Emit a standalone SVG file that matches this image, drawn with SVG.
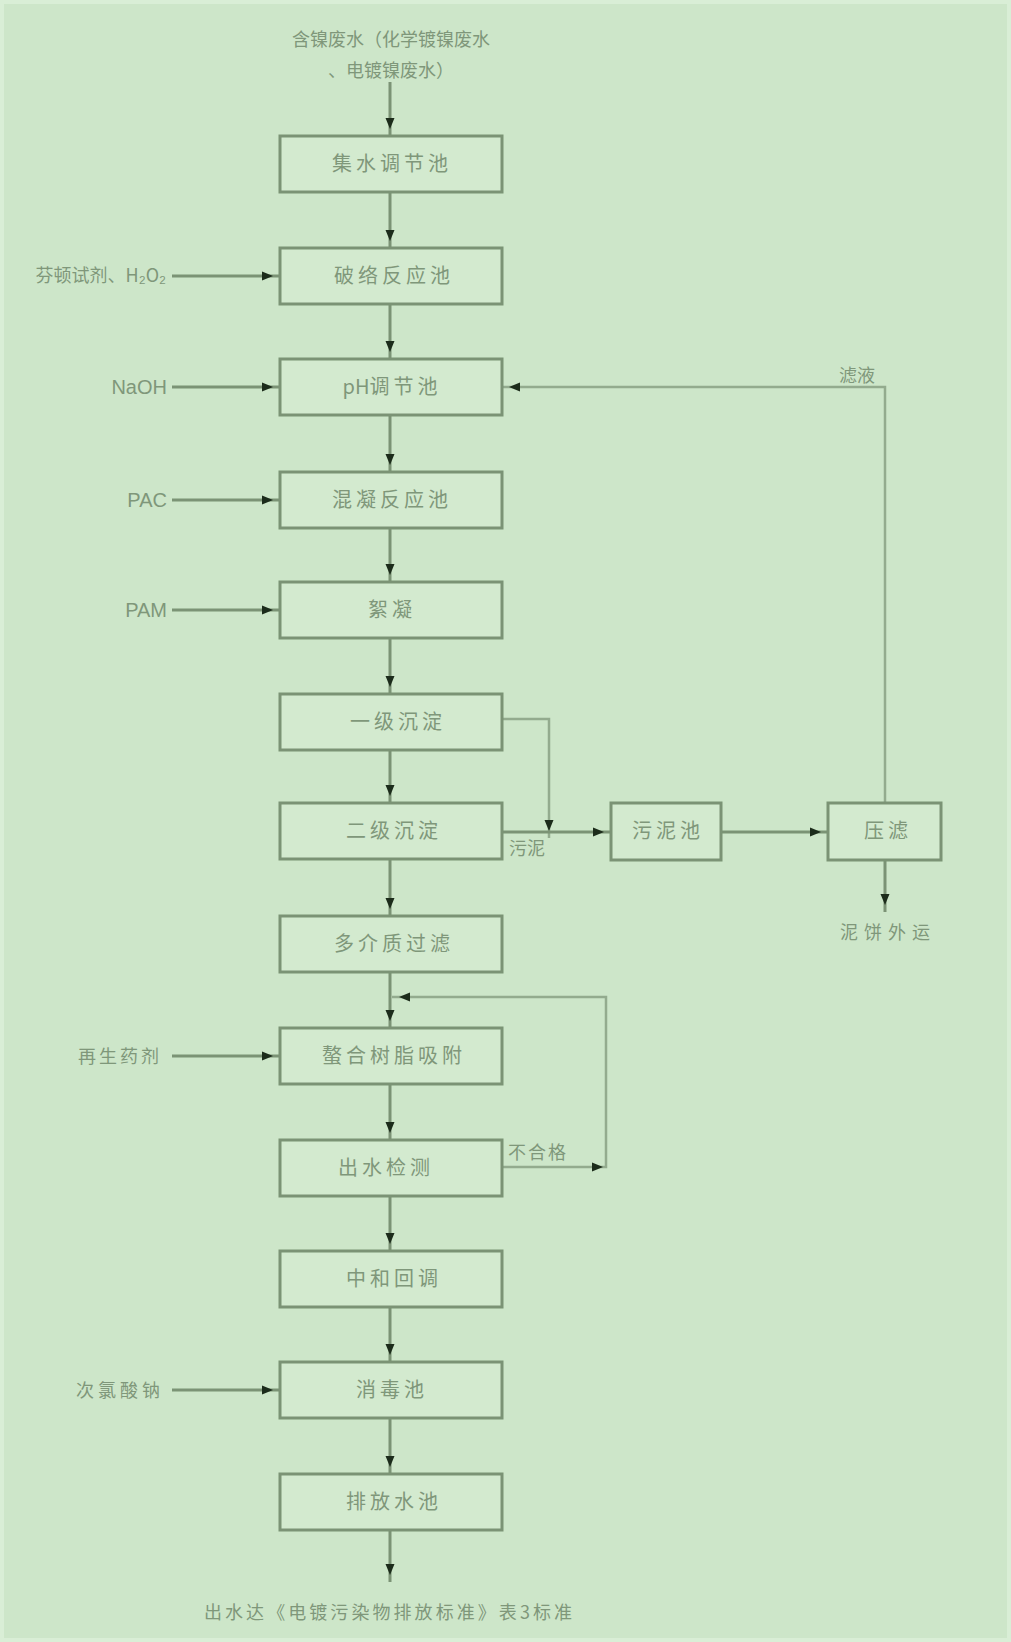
<svg xmlns="http://www.w3.org/2000/svg" width="1011" height="1642" viewBox="0 0 1011 1642">
<defs>
<marker id="ah" markerUnits="userSpaceOnUse" markerWidth="12" markerHeight="10" viewBox="0 0 12 10" refX="18" refY="5" orient="auto" overflow="visible">
<path d="M0,0.5 L11,5 L0,9.5 z" fill="#1c2c1b"/>
</marker>
<style>
.box{fill:#d3eacf;stroke:#7b9375;stroke-width:3}
.ln{fill:none;stroke:#7b9375;stroke-width:3}
.lt{fill:none;stroke:#93ab8e;stroke-width:2.5}
.bt{font-family:"Noto Sans CJK SC","Liberation Sans",sans-serif;font-size:20px;fill:#7f977a;text-anchor:middle;letter-spacing:4px}
.lb{font-family:"Noto Sans CJK SC","Liberation Sans",sans-serif;font-size:18px;fill:#7f977a}
.en{font-family:"Liberation Sans","Noto Sans CJK SC",sans-serif;font-size:20px;fill:#7f977a;text-anchor:end}
.head{fill:#1c2c1b}
</style>
</defs>
<rect x="0" y="0" width="1011" height="1642" fill="#cde6c9"/>
<rect x="2" y="2" width="1007" height="1638" fill="none" stroke="#d9eed6" stroke-width="4"/>

<g id="connectors">
<line class="ln" x1="390" y1="82" x2="390" y2="136" marker-end="url(#ah)"/>
<line class="ln" x1="390" y1="192" x2="390" y2="248" marker-end="url(#ah)"/>
<line class="ln" x1="390" y1="304" x2="390" y2="359" marker-end="url(#ah)"/>
<line class="ln" x1="390" y1="415" x2="390" y2="472" marker-end="url(#ah)"/>
<line class="ln" x1="390" y1="528" x2="390" y2="582" marker-end="url(#ah)"/>
<line class="ln" x1="390" y1="638" x2="390" y2="694" marker-end="url(#ah)"/>
<line class="ln" x1="390" y1="750" x2="390" y2="803" marker-end="url(#ah)"/>
<line class="ln" x1="390" y1="859" x2="390" y2="916" marker-end="url(#ah)"/>
<line class="ln" x1="390" y1="972" x2="390" y2="1028" marker-end="url(#ah)"/>
<line class="ln" x1="390" y1="1084" x2="390" y2="1140" marker-end="url(#ah)"/>
<line class="ln" x1="390" y1="1196" x2="390" y2="1251" marker-end="url(#ah)"/>
<line class="ln" x1="390" y1="1307" x2="390" y2="1362" marker-end="url(#ah)"/>
<line class="ln" x1="390" y1="1418" x2="390" y2="1474" marker-end="url(#ah)"/>
<line class="ln" x1="390" y1="1530" x2="390" y2="1582" marker-end="url(#ah)"/>

<line class="ln" x1="172" y1="276" x2="280" y2="276" marker-end="url(#ah)"/>
<line class="ln" x1="172" y1="387" x2="280" y2="387" marker-end="url(#ah)"/>
<line class="ln" x1="172" y1="500" x2="280" y2="500" marker-end="url(#ah)"/>
<line class="ln" x1="172" y1="610" x2="280" y2="610" marker-end="url(#ah)"/>
<line class="ln" x1="172" y1="1056" x2="280" y2="1056" marker-end="url(#ah)"/>
<line class="ln" x1="172" y1="1390" x2="280" y2="1390" marker-end="url(#ah)"/>

<polyline class="lt" points="502,719 549,719 549,838" marker-end="url(#ah)"/>
<line class="ln" x1="502" y1="832" x2="611" y2="832" marker-end="url(#ah)"/>
<line class="ln" x1="721" y1="832" x2="828" y2="832" marker-end="url(#ah)"/>
<polyline class="lt" points="885,803 885,387 502,387" marker-end="url(#ah)"/>
<line class="ln" x1="885" y1="860" x2="885" y2="912" marker-end="url(#ah)"/>

<polyline class="lt" points="502,1167 606,1167 606,997 392,997" marker-end="url(#ah)"/>
<path class="head" d="M592,1162.5 L603,1167 L592,1171.5 z"/>
</g>

<text class="lb" x="391" y="46" text-anchor="middle">含镍废水（化学镀镍废水</text>
<text class="lb" x="391" y="77" text-anchor="middle">、电镀镍废水）</text>

<g id="n1"><rect class="box" x="280" y="136" width="222" height="56"/><text class="bt" x="392" y="171">集水调节池</text></g>
<g id="n2"><rect class="box" x="280" y="248" width="222" height="56"/><text class="bt" x="394" y="283">破络反应池</text></g>
<g id="n3"><rect class="box" x="280" y="359" width="222" height="56"/><text class="bt" x="392" y="394"><tspan letter-spacing="0">pH</tspan>调节池</text></g>
<g id="n4"><rect class="box" x="280" y="472" width="222" height="56"/><text class="bt" x="392" y="507">混凝反应池</text></g>
<g id="n5"><rect class="box" x="280" y="582" width="222" height="56"/><text class="bt" x="392" y="617">絮凝</text></g>
<g id="n6"><rect class="box" x="280" y="694" width="222" height="56"/><text class="bt" x="398" y="729">一级沉淀</text></g>
<g id="n7"><rect class="box" x="280" y="803" width="222" height="56"/><text class="bt" x="394" y="838">二级沉淀</text></g>
<g id="n8"><rect class="box" x="280" y="916" width="222" height="56"/><text class="bt" x="394" y="951">多介质过滤</text></g>
<g id="n9"><rect class="box" x="280" y="1028" width="222" height="56"/><text class="bt" x="394" y="1063">螯合树脂吸附</text></g>
<g id="n10"><rect class="box" x="280" y="1140" width="222" height="56"/><text class="bt" x="386" y="1175">出水检测</text></g>
<g id="n11"><rect class="box" x="280" y="1251" width="222" height="56"/><text class="bt" x="394" y="1286">中和回调</text></g>
<g id="n12"><rect class="box" x="280" y="1362" width="222" height="56"/><text class="bt" x="392" y="1397">消毒池</text></g>
<g id="n13"><rect class="box" x="280" y="1474" width="222" height="56"/><text class="bt" x="394" y="1509">排放水池</text></g>
<g id="n14"><rect class="box" x="611" y="803" width="110" height="57"/><text class="bt" x="668" y="838">污泥池</text></g>
<g id="n15"><rect class="box" x="828" y="803" width="113" height="57"/><text class="bt" x="888" y="838">压滤</text></g>

<text class="lb" x="166" y="282" text-anchor="end">芬顿试剂、H₂O₂</text>
<text class="en" x="167" y="394">NaOH</text>
<text class="en" x="167" y="507">PAC</text>
<text class="en" x="167" y="617">PAM</text>
<text class="lb" x="162" y="1063" text-anchor="end" letter-spacing="3">再生药剂</text>
<text class="lb" x="164" y="1397" text-anchor="end" letter-spacing="4">次氯酸钠</text>

<text class="lb" x="857" y="382" text-anchor="middle" font-size="17">滤液</text>
<text class="lb" x="527" y="855" text-anchor="middle" font-size="16">污泥</text>
<text class="lb" x="888" y="939" text-anchor="middle" letter-spacing="6">泥饼外运</text>
<text class="lb" x="538" y="1159" text-anchor="middle" font-size="16" letter-spacing="2">不合格</text>

<text class="lb" x="204" y="1619" font-size="19" textLength="368" lengthAdjust="spacing">出水达《电镀污染物排放标准》表3标准</text>
</svg>
